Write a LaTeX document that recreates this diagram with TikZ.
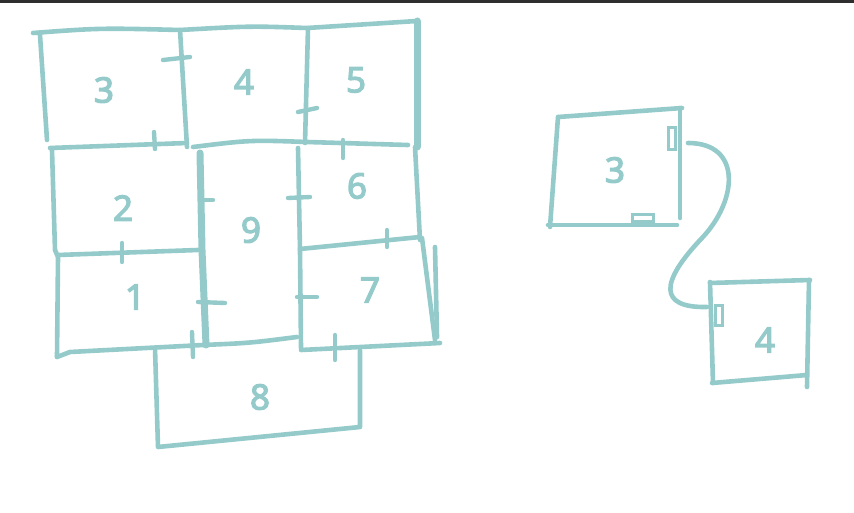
\documentclass[tikz,border=0pt]{standalone}
\usepackage{fontspec}
\setmainfont{Noto Sans}
\newfontfamily\handfont[FakeBold=3.5]{Noto Sans}
\definecolor{sk}{HTML}{94CBCA}
\definecolor{bar}{HTML}{2E2E2E}
\begin{document}
\begin{tikzpicture}[x=1pt,y=-1pt,
  pen/.style={draw=sk,line width=4.6pt,line cap=round,line join=round},
  heavy/.style={draw=sk,line width=7pt,line cap=round,line join=round},
  tick/.style={draw=sk,line width=4.4pt,line cap=round},
  port/.style={draw=sk,line width=3pt,fill=white,inner sep=0pt},
  lbl/.style={text=sk,font=\handfont\fontsize{35}{35}\selectfont,inner sep=0pt}]
\useasboundingbox (0,0) rectangle (854,513);
\fill[bar] (0,0) rectangle (854,3.5);
% ---------- left grid ----------
\draw[pen] (33,33) .. controls (100,28) .. (180,30) .. controls (250,26) .. (307,28) -- (417,21);
\draw[pen] (40,35) -- (47,140);
\draw[pen] (180,30) -- (187,147);
\draw[tick] (163,60) -- (190,57);
\draw[pen] (308,28) -- (305,143);
\draw[tick] (298,112) -- (317,108);
\draw[heavy] (417,21) -- (417,147);
\draw[pen] (415,147) -- (420,240);
\draw[pen] (422,238) -- (435,340);
\draw[pen] (435,247) -- (437,337);
% row 2
\draw[pen] (50,148) -- (187,143);
\draw[tick] (154,132) -- (155,149);
\draw[pen] (193,147) .. controls (250,140) .. (307,142) -- (408,145);
\draw[tick] (343,140) -- (343,158);
\draw[pen] (52,150) -- (55,250) -- (58,257) -- (57,357);
\draw[heavy] (200,153) -- (202,250) -- (206,345);
\draw[tick] (200,200) -- (213,200);
\draw[tick] (198,302) -- (225,303);
\draw[pen] (298,148) -- (300,250) -- (301,348);
\draw[tick] (288,198) -- (310,197);
\draw[tick] (297,297) -- (317,297);
\draw[pen] (58,255) -- (198,250);
\draw[tick] (122,243) -- (122,262);
\draw[pen] (300,249) -- (420,237);
\draw[tick] (387,230) -- (387,247);
% bottoms
\draw[pen] (57,357) -- (70,352) -- (203,345) .. controls (250,343) .. (297,337);
\draw[tick] (192,332) -- (193,357);
\draw[pen] (301,350) -- (440,343);
\draw[tick] (335,335) -- (335,360);
% box 8
\draw[pen] (155,348) -- (158,447) -- (360,427) -- (360,350);
% labels
\node[lbl] (n3) at (104,90) {3};
\node[lbl] (n4) at (244,82) {4};
\node[lbl] (n5) at (356,80) {5};
\node[lbl] (n2) at (123,208) {2};
\node[lbl] (n9) at (251,230) {9};
\node[lbl] (n6) at (357,186) {6};
\node[lbl] (n1) at (135,297) {1};
\node[lbl] (n7) at (370,290) {7};
\node[lbl] (n8) at (260,397) {8};
% ---------- right pair ----------
\draw[pen] (558,117) -- (682,108);
\draw[pen] (558,117) -- (550,227);
\draw[pen] (548,225) -- (677,225);
\draw[pen] (680,108) -- (680,218);
\node[port,minimum width=7pt,minimum height=22pt] (pa) at (671.5,139) {};
\node[port,minimum width=21pt,minimum height=7pt] (pb) at (642.5,218.5) {};
\node[lbl] (r3) at (615,170) {3};
\draw[pen] (710,283) -- (810,280);
\draw[pen] (710,282) -- (713,383);
\draw[pen] (712,383) -- (807,375);
\draw[pen] (809,280) -- (807,387);
\node[port,minimum width=7pt,minimum height=20pt] (pc) at (718.5,315) {};
\node[lbl] (r4) at (765,340) {4};
\coordinate (ca) at (688,143);
\coordinate (cb) at (707,307);
\draw[pen] (ca) .. controls (742,143) and (738,200) .. (702,238) .. controls (660,282) and (658,308) .. (cb);
\end{tikzpicture}
\end{document}
